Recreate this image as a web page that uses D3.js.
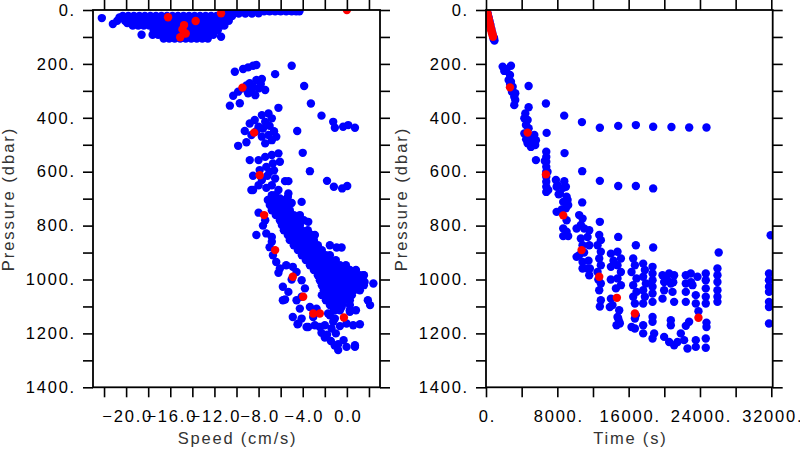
<!DOCTYPE html>
<html><head><meta charset="utf-8">
<script src="https://cdn.jsdelivr.net/npm/d3@7"></script>
<style>body{margin:0;background:#fff}svg{display:block}</style>
</head><body>
<svg id="chart" width="800" height="450"></svg>
<script>
// ---------- tick values / labels ----------
const pressureTicks = [0,100,200,300,400,500,600,700,800,900,1000,1100,1200,1300,1400];
const pressureLabels = [0,200,400,600,800,1000,1200,1400];
const speedTicks = [-22,-20,-18,-16,-14,-12,-10,-8,-6,-4,-2,0,2];
const speedLabels = [-20,-16,-12,-8,-4,0];
const timeTicks = [0,4000,8000,12000,16000,20000,24000,28000,32000];
const timeLabels = [0,8000,16000,24000,32000];

// ---------- left panel: [speed (cm/s), pressure (dbar)] ----------
const leftBlueSurface = [
 [-11,5],[-10.5,5],[-10,5],[-9.5,5],[-9,5],[-8.5,5],[-8,5],[-7.5,5],[-7,5],[-6.5,5],[-6,5],[-5.5,5],[-5,5],[-4.6,5],[-4.3,5],
 [-11,13],[-10.4,13],[-9.8,13],[-9.2,13],[-8.6,13],[-8,12],
 [-20.3,22],[-19.8,22],[-19.3,22],[-18.8,22],[-18.3,22],[-17.8,22],[-17.3,22],[-16.8,22],[-16.3,22],[-15.8,22],[-15.3,22],[-14.8,22],[-14.3,22],[-13.8,22],[-13.3,22],[-12.8,22],[-12.3,22],[-11.8,22],[-11.3,22],[-10.8,22],[-10.4,22],
 [-20.1,40],[-19.6,40],[-19.1,40],[-18.6,40],[-18.1,40],[-17.6,40],[-17.1,40],[-16.6,40],[-16.1,40],[-15.6,40],[-15.1,40],[-14.6,40],[-14.1,40],[-13.6,40],[-13.1,40],[-12.6,40],[-12.1,40],[-11.6,40],[-11.1,40],[-10.7,40],
 [-19.4,58],[-18.9,58],[-18.4,58],[-17.9,58],[-17.4,58],[-16.9,58],[-16.4,58],[-15.9,58],[-15.4,58],[-14.9,58],[-14.4,58],[-13.9,58],[-13.4,58],[-12.9,58],[-12.4,58],[-11.9,58],[-11.4,58],[-11.1,58],
 [-17.5,75],[-17,75],[-16.5,75],[-16,75],[-15.5,75],[-15,75],[-14.5,75],[-14,75],[-13.5,75],[-13,75],[-12.5,75],[-12,75],[-11.7,75],
 [-17.1,92],[-16.6,92],[-16.1,92],[-15.6,92],[-15.1,92],[-14.6,92],[-14.1,92],[-13.6,92],[-13.1,92],[-12.6,92],[-12.1,92],
 [-16.6,106],[-16.1,106],[-15.6,106],[-15.1,106],[-14.6,106],[-14.1,106],[-13.6,106],[-13.1,106],[-12.6,106],
 [-22.2,30],[-21.2,52],[-20.6,28],[-19.9,48],[-18.6,92],[-17.6,92],[-11.4,99],[-20.8,40]
];
const leftBlueUpper = [
 [-10.15,229],[-9.4,219],[-8.95,213],[-8.5,207],[-8.2,204],[-6.5,238],[-5.0,207],
 [-10.6,355],[-10.3,318],[-9.7,346],[-9.85,303],[-9.4,291],[-8.8,272],[-8.2,260],[-7.7,256],[-8.65,303],[-8.0,291],[-7.4,297],[-8.95,309],[-8.3,316],[-9.1,280],[-7.8,275],[-8.5,285],
 [-3.87,282],[-3.26,347],[-2.3,392],[-1.24,415],[-1.09,437],[-0.34,433],[0.12,427],[0.73,437],
 [-9.25,449],[-8.8,421],[-8.35,408],[-7.7,390],[-7.1,384],[-6.8,402],[-7.4,415],[-8.0,433],[-8.65,464],[-9.1,491],[-9.85,504],[-7.7,470],[-7.1,464],[-6.4,470],[-7.4,495],[-6.8,483],[-6.2,363],[-4.5,449],[-7.6,440],[-7.0,430],[-8.2,450],[-6.6,450],
 [-4.0,530],[-3.35,598],[-1.8,634],[-1.18,656],[-0.43,662],[0.03,653],
 [-8.8,557],[-8.0,557],[-7.4,545],[-6.8,538],[-6.2,532],[-6.07,563],[-6.7,569],[-7.3,582],[-7.9,594],[-7.0,600],[-8.5,615],[-7.7,631],[-8.5,668],[-8.0,650],[-6.5,625],[-5.6,635],[-5.3,635],[-6.8,650],[-6.2,668],[-6.8,687],[-6.07,699],[-5.3,681],[-6.5,687],[-5.9,705],[-5.35,694],[-5.0,716],[-7.2,615],[-6.6,595],[-7.3,660]
];
const leftBlueDeep = [
 [-4.1,712],[-3.5,786],[-2.9,835],[-1.54,873],[-0.93,881],[-0.48,881],
 [-7.16,705],[-6.62,705],[-6.07,705],[-5.53,705],
 [-6.98,724],[-6.44,724],[-5.89,724],[-5.35,724],
 [-6.8,743],[-6.26,743],[-5.71,743],[-5.17,743],
 [-6.44,761],[-5.89,761],[-5.35,761],[-4.81,761],[-4.26,761],
 [-6.07,780],[-5.53,780],[-4.99,780],[-4.44,780],[-3.9,780],
 [-5.89,798],[-5.35,798],[-4.81,798],[-4.26,798],
 [-5.71,817],[-5.17,817],[-4.62,817],[-4.08,817],[-3.54,817],
 [-5.35,835],[-4.81,835],[-4.26,835],[-3.72,835],[-3.17,835],
 [-5.17,854],[-4.62,854],[-4.08,854],[-3.54,854],[-2.99,854],
 [-4.81,873],[-4.26,873],[-3.72,873],[-3.17,873],[-2.63,873],
 [-4.44,891],[-3.9,891],[-3.35,891],[-2.81,891],[-2.27,891],
 [-4.08,910],[-3.54,910],[-2.99,910],[-2.45,910],[-1.9,910],[-1.54,910],
 [-3.72,928],[-3.17,928],[-2.63,928],[-2.09,928],[-1.54,928],[-1.0,928],
 [-3.35,947],[-2.81,947],[-2.27,947],[-1.72,947],[-1.18,947],[-0.63,947],[-0.09,947],
 [-2.99,965],[-2.45,965],[-1.9,965],[-1.36,965],[-0.82,965],[-0.27,965],[0.27,965],[0.82,965],
 [-2.63,984],[-2.09,984],[-1.54,984],[-1.0,984],[-0.45,984],[0.09,984],[0.63,984],[1.18,984],[1.54,984],
 [-2.45,1003],[-1.9,1003],[-1.36,1003],[-0.82,1003],[-0.27,1003],[0.27,1003],[0.82,1003],[1.36,1003],
 [-2.27,1021],[-1.72,1021],[-1.18,1021],[-0.63,1021],[-0.09,1021],[0.45,1021],[1.0,1021],[1.54,1021],
 [-2.09,1040],[-1.54,1040],[-1.0,1040],[-0.45,1040],[0.09,1040],[0.63,1040],[1.18,1040],
 [-2.27,1058],[-1.72,1058],[-1.18,1058],[-0.63,1058],[-0.09,1058],[0.45,1058],
 [-1.9,1077],[-1.36,1077],[-0.82,1077],[-0.27,1077],[0.27,1077],
 [-1.54,1095],[-1.0,1095],[-0.45,1095],[0.27,1095],
 [-1.18,1114],[-0.63,1114],[0.27,1114],[0.82,1114],
 [1.5,984],[1.6,1009],[2.4,1015],[1.9,1077],[2.1,1095],[0.57,1170],[1.18,1166],[0.73,1244],
 [-8.0,752],[-7.4,780],[-8.2,835],[-7.3,829],[-6.8,842],[-6.8,860],[-6.7,910],[-6.4,935],[-6.07,959],[-5.5,947],[-4.9,953],[-4.56,972],[-4.1,1003],[-5.8,1027],[-5.3,1046],[-5.6,1074],[-4.56,1077],[-4.1,1064],[-3.8,1033],[-4.26,1108],[-4.9,1139],[-4.1,1145],[-4.47,1166],[-3.5,1176],[-3.05,1139],[-3.35,1102],[-2.75,1108],[-8.65,668],[-7.6,800],[-7.0,880],[-6.2,975],[-5.0,1000],[-5.8,1077],[-4.4,1163],[-3.65,1176],[-2.9,1170],[-2.45,1176],
 [-1.7,1126],[-1.09,1114],[-0.48,1102],[0.27,1120],[-1.09,1145],[-0.03,1163],[-0.63,1173],[-2.3,1198],[-2.0,1215],[-1.45,1228],[-0.79,1240],[-0.03,1250],[0.73,1250],[-2.0,1170],[-1.39,1182],[-0.79,1262],[-1.54,1133],[-1.24,1157],[-1.8,1205],[-1.0,1200],[-0.3,1225],[-1.1,1245]
];
const leftRed = [
 [-16.2,27],[-11.4,12],[-13.7,41],[-14.75,56],[-14.9,72],[-14.6,87],[-15.1,101],[0,0],
 [-9.46,288],[-8.4,455],[-7.9,613],[-7.5,761],[-6.5,891],[-4.9,990],[-3.96,1064],[-3.05,1126],[-2.45,1126],[-0.27,1141]
];

// ---------- right panel: [time (s), pressure (dbar)] ----------
const rightBlue = [
 [100,0],[200,14],[300,28],[400,42],[500,56],[600,70],[700,84],[800,98],[850,108],[950,113],[900,104],
 [1870,210],[2800,207],[2050,226],[2690,241],[2540,260],[2800,266],[2990,285],[2910,303],[3280,309],[3170,322],[3280,334],[3170,353],[2300,220],[2700,275],
 [4780,282],[6720,347],[8770,392],[10760,416],[12770,437],[14830,430],[16810,427],[18750,433],[20800,434],[22790,436],[24730,436],
 [4780,361],[4410,384],[4300,402],[4670,408],[4480,427],[4780,439],[4300,458],[4860,470],[5420,464],[5600,483],[4670,495],[5520,501],[5040,508],[5600,557],[4500,480],[5200,485],
 [6800,456],[8810,531],[10790,598],[12770,634],[14830,653],[16810,653],[18750,662],
 [6760,526],[6760,545],[6760,563],[6760,582],[6760,600],[6760,619],[6760,637],[6760,656],[6760,675],[6980,668],[6600,560],[6900,600],
 [7840,631],[8780,635],[8030,650],[8960,656],[8150,684],[9150,705],[7920,656],[8290,681],[9040,693],[8660,712],[9220,724],[8960,736],[7920,749],[9040,780],[8660,811],[9040,823],[8660,839],[9220,839],[8660,660],[8500,740],
 [10790,714],[12770,786],[14830,842],[16810,873],[18750,881],[26100,900],[31930,836],
 [10450,761],[10830,774],[10640,798],[11010,811],[11580,817],[11390,842],[10640,848],[10830,873],[11580,873],[10450,910],[10830,935],[10830,959],[11580,984],[11390,959],[10160,811],[10160,916],[11650,959],[11000,900],[11500,930],
 [12700,835],[12880,854],[12510,873],[12880,897],[12700,922],[12880,947],[12510,972],[12880,1015],[12700,1040],[12880,1077],[12770,1100],[12600,1000],
 [14010,904],[14750,897],[15130,922],[14010,953],[14750,947],[15130,972],[14750,996],[15130,1021],[14570,1033],[14010,1071],[14190,1095],[14940,1114],[14750,1139],[14940,1157],[13890,1102],[14830,1145],[15010,1163],[14640,1170],[14000,1000],[14300,930],
 [16510,922],[16700,947],[16320,972],[16880,996],[16510,1021],[16880,1046],[16510,1064],[16700,1089],[16700,1145],[16320,1176],[16700,1182],[16800,1133],
 [17630,941],[17820,965],[17630,990],[17930,1015],[17630,1040],[17820,1064],[17630,1089],[17630,1170],[17630,1200],
 [18680,953],[18680,978],[18680,1003],[18680,1027],[18680,1052],[18680,1083],[18680,1139],[18680,1157],[18860,1200],[18680,1219],
 [19800,984],[20540,978],[21100,984],[19980,1009],[20730,1015],[19980,1040],[20920,1046],[19800,1071],[21100,1083],[20730,1151],[20730,1170],[19980,1213],[20540,1232],[21100,1244],[20300,1000],[21000,1010],
 [22410,984],[22970,978],[23720,990],[22410,1015],[23160,1021],[22410,1046],[23530,1058],[22410,1083],[23530,1089],[23830,1118],[22780,1157],[22410,1172],[21850,1200],[22220,1225],[22600,1256],[23530,1225],[23530,1250],[21480,1232],[23000,1010],
 [24650,978],[24650,1003],[24650,1033],[24650,1064],[24650,1089],[24730,1160],[24730,1176],[24650,1219],[24650,1253],
 [25960,959],[25960,984],[25960,1009],[25960,1040],[25960,1064],[25960,1083],
 [31740,978],[31740,1003],[31740,1027],[31740,1046],[31740,1083],[31740,1102],[31740,1163]
];
const rightRed = [
 [80,0],[140,10],[200,19],[260,28],[320,37],[380,46],[440,55],[500,63],[560,71],[620,79],[680,86],[740,93],[790,99],
 [2690,287],[4670,455],[6720,610],[8660,762],[10720,891],[12700,990],[14680,1068],[16700,1126],[23830,1142]
];

// ---------- drawing ----------
const svg = d3.select("#chart");
const FONT = "'Liberation Sans', Arial, Helvetica, sans-serif";
const yTop = 10, yBottom = 387.3;
const yScale = d3.scaleLinear().domain([0,1400]).range([yTop,yBottom]);
const R = 4.2;

function panel(id, x0, x1, xDomain, xTicks, xLabels, xFmt, blueSets, red, xTitle) {
  const xs = d3.scaleLinear().domain(xDomain).range([x0,x1]);
  const g = svg.append("g");
  const styleText = sel => sel.selectAll("text")
      .attr("font-family", FONT).attr("font-size", 16.5)
      .attr("letter-spacing", "1.8px").attr("fill", "#000");
  const styleTicks = sel => { sel.select(".domain").remove();
      sel.selectAll("line").attr("stroke","#000").attr("stroke-width",1.6); };

  const ab = g.append("g").attr("transform",`translate(0,${yBottom})`)
    .call(d3.axisBottom(xs).tickValues(xTicks).tickSize(10).tickSizeOuter(0).tickPadding(12.5)
      .tickFormat(d => xLabels.includes(d) ? xFmt(d) : ""));
  styleTicks(ab); styleText(ab); ab.selectAll("text").attr("dx", "1px");
  const at = g.append("g").attr("transform",`translate(0,${yTop})`)
    .call(d3.axisTop(xs).tickValues(xTicks).tickSize(10).tickSizeOuter(0).tickFormat(""));
  styleTicks(at);
  const al = g.append("g").attr("transform",`translate(${x0},0)`)
    .call(d3.axisLeft(yScale).tickValues(pressureTicks).tickSize(10).tickSizeOuter(0).tickPadding(7)
      .tickFormat(d => pressureLabels.includes(d) ? d + "." : ""));
  styleTicks(al); styleText(al);
  const ar = g.append("g").attr("transform",`translate(${x1},0)`)
    .call(d3.axisRight(yScale).tickValues(pressureTicks).tickSize(10).tickSizeOuter(0).tickFormat(""));
  styleTicks(ar);

  svg.append("clipPath").attr("id", id).append("rect")
    .attr("x", x0).attr("y", yTop).attr("width", x1-x0).attr("height", yBottom-yTop);
  const pg = g.append("g").attr("clip-path", `url(#${id})`);
  blueSets.forEach(set => pg.append("g").selectAll("circle").data(set).join("circle")
    .attr("cx", d => xs(d[0])).attr("cy", d => yScale(d[1])).attr("r", R).attr("fill", "#0000ff"));
  pg.append("g").selectAll("circle").data(red).join("circle")
    .attr("cx", d => xs(d[0])).attr("cy", d => yScale(d[1])).attr("r", R).attr("fill", "#ff0000");

  g.append("rect").attr("x", x0).attr("y", yTop).attr("width", x1-x0).attr("height", yBottom-yTop)
    .attr("fill","none").attr("stroke","#000").attr("stroke-width",1.8);

  g.append("text").attr("x", (x0+x1)/2 + 1).attr("y", 444).attr("text-anchor","middle")
    .attr("font-family", FONT).attr("font-size", 16.5).attr("letter-spacing","1.8px").attr("fill","#333")
    .text(xTitle);
  g.append("text").attr("transform", `translate(${x0-79},199) rotate(-90)`).attr("text-anchor","middle")
    .attr("font-family", FONT).attr("font-size", 16.5).attr("letter-spacing","2px").attr("fill","#333")
    .text("Pressure (dbar)");
}

panel("clipL", 93, 380, [-23, 3], speedTicks, speedLabels,
  d => (d < 0 ? "\u2212" : "") + Math.abs(d).toFixed(1),
  [leftBlueSurface, leftBlueUpper, leftBlueDeep], leftRed, "Speed (cm/s)");
panel("clipR", 486, 772.7, [0, 32157], timeTicks, timeLabels,
  d => d + ".", [rightBlue], rightRed, "Time (s)");
</script>
</body></html>
